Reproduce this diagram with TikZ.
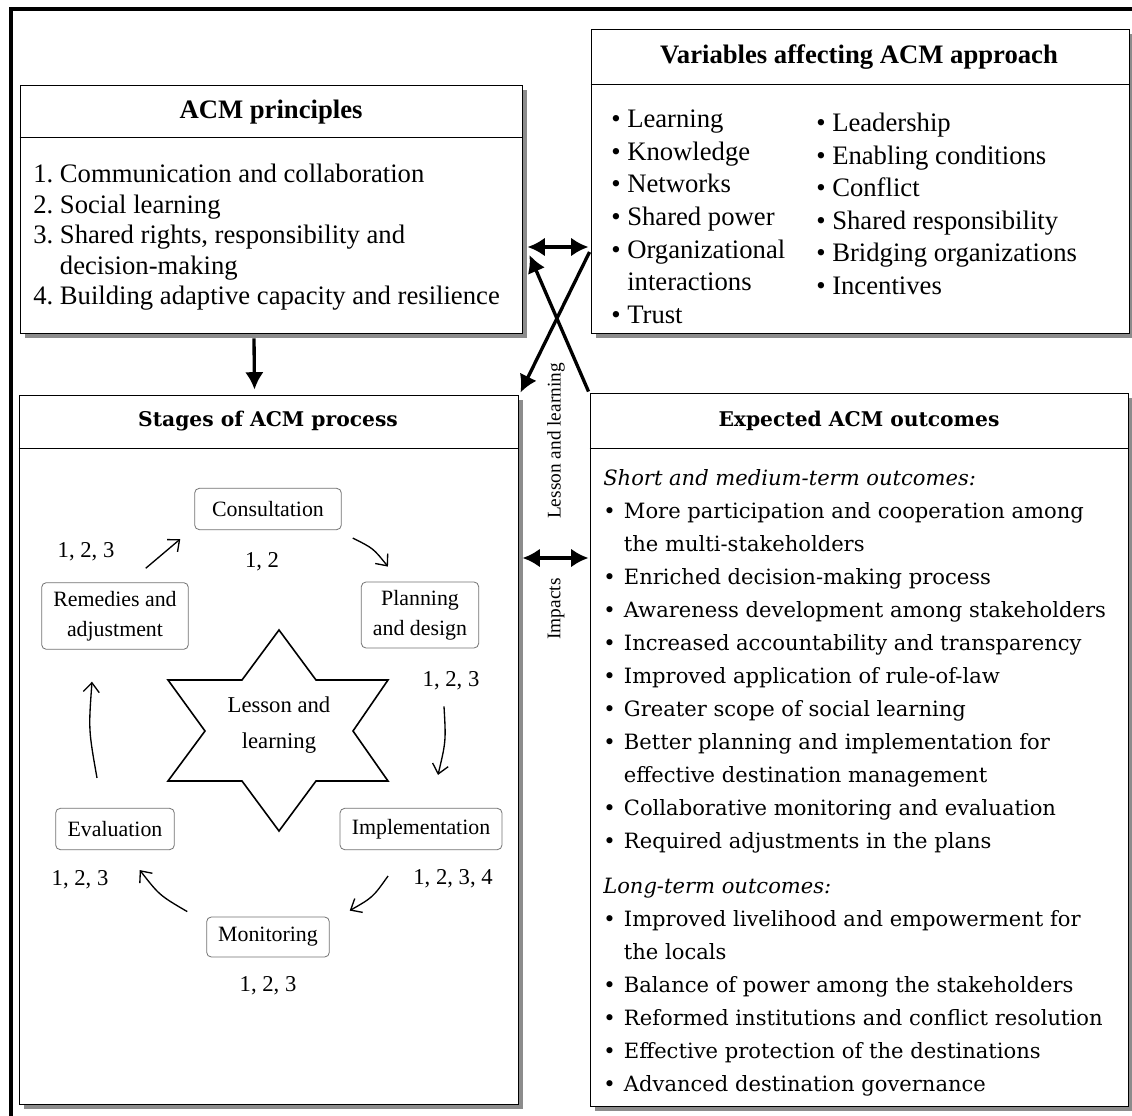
\documentclass[tikz,border=0pt]{standalone}
\usepackage{fontspec}
\setmainfont{Liberation Serif}
\newfontfamily\widefont{DejaVu Serif}
\usetikzlibrary{arrows.meta,calc,fit,backgrounds}

\newcommand{\oitem}{\makebox[15.5pt][l]{\textbullet}}
\newcommand{\ohang}{\hspace*{15.5pt}}

\tikzset{
  panel/.style={draw, line width=0.7pt, fill=white, inner sep=0pt},
  boxshadow/.style={fill=black!45},
  stageshadow/.style={fill=black!20},
  paneltitle/.style={inner sep=0.75pt, font=\fontsize{20}{24}\selectfont\bfseries},
  widetitle/.style={inner sep=0.75pt, font=\widefont\fontsize{15.2}{18}\selectfont\bfseries},
  listtext/.style={anchor=north west, align=left, inner sep=0pt},
  stage/.style={draw=black!55, line width=0.6pt, rounded corners=3.5pt, fill=white, align=center,
    inner sep=1pt, font=\fontsize{16.4}{22.5}\selectfont},
  nums/.style={inner sep=0.75pt, font=\fontsize{17}{20}\selectfont},
  sidelabel/.style={rotate=90, inner sep=0.75pt, font=\fontsize{14.5}{17}\selectfont},
  flow/.style={line width=2.5pt, -{Latex[length=13pt,width=14pt]}},
  dflow/.style={line width=2.5pt, {Latex[length=13pt,width=14pt]}-{Latex[length=13pt,width=14pt]}},
  cyc/.style={line width=1pt, -{Straight Barb[length=7pt,width=12pt]}}
}

\begin{document}
\begin{tikzpicture}[x=0.75pt,y=0.75pt,yscale=-1,xscale=1]
\useasboundingbox (0,0) rectangle (1132,1116);

%Shape: Frame
\draw [line width=3.5pt] (11,1116) -- (11,9) -- (1132,9);

%Shape: Rectangle [ACM principles]
\node [panel, fit={(20,85) (522,333)}] (prin) {};
\draw (prin.west |- 0,137) -- (prin.east |- 0,137);
%Shape: Rectangle [variables]
\node [panel, fit={(591,29) (1129,333)}] (vars) {};
\draw (vars.west |- 0,84) -- (vars.east |- 0,84);
%Shape: Rectangle [stages]
\node [panel, fit={(19,395) (518,1104)}] (stages) {};
\draw (stages.west |- 0,448) -- (stages.east |- 0,448);
%Shape: Rectangle [outcomes]
\node [panel, fit={(590,393) (1128,1106)}] (outc) {};
\draw (outc.west |- 0,448) -- (outc.east |- 0,448);

% Text Node
\draw (271,112) node (prin-t) [paneltitle] {ACM principles};
% Text Node
\draw (859,57) node (vars-t) [paneltitle] {Variables affecting ACM approach};
% Text Node
\draw (268,421) node (stages-t) [widetitle] {Stages of ACM process};
% Text Node
\draw (859,421) node (outc-t) [widetitle] {Expected ACM outcomes};

% Text Node
\draw (33,164) node (prin-list) [listtext, font=\fontsize{20}{22.9}\selectfont] {1.\ Communication and collaboration\\2.\ Social learning\\3.\ Shared rights, responsibility and\\\hphantom{3.\ }decision-making\\4.\ Building adaptive capacity and resilience};
% Text Node
\draw (611,110) node (vars-a) [listtext, font=\fontsize{20}{24.4}\selectfont] {\textbullet\ Learning\\\textbullet\ Knowledge\\\textbullet\ Networks\\\textbullet\ Shared power\\\textbullet\ Organizational\\\hphantom{\textbullet\ }interactions\\\textbullet\ Trust};
% Text Node
\draw (816,113) node (vars-b) [listtext, font=\fontsize{20}{24.4}\selectfont] {\textbullet\ Leadership\\\textbullet\ Enabling conditions\\\textbullet\ Conflict\\\textbullet\ Shared responsibility\\\textbullet\ Bridging organizations\\\textbullet\ Incentives};
% Text Node
\draw (603,469) node (outc-list) [listtext, font=\widefont\fontsize{15.8}{24.75}\selectfont] {\textit{Short and medium-term outcomes:}\\
\oitem More participation and cooperation among\\
\ohang the multi-stakeholders\\
\oitem Enriched decision-making process\\
\oitem Awareness development among stakeholders\\
\oitem Increased accountability and transparency\\
\oitem Improved application of rule-of-law\\
\oitem Greater scope of social learning\\
\oitem Better planning and implementation for\\
\ohang effective destination management\\
\oitem Collaborative monitoring and evaluation\\
\oitem Required adjustments in the plans\\[9pt]
\textit{Long-term outcomes:}\\
\oitem Improved livelihood and empowerment for\\
\ohang the locals\\
\oitem Balance of power among the stakeholders\\
\oitem Reformed institutions and conflict resolution\\
\oitem Effective protection of the destinations\\
\oitem Advanced destination governance};

%Shape: Star
\draw [line width=1.2pt, line join=miter] (279,630) -- (316,680) -- (388,680) -- (353,731) -- (388,781) -- (316,781) -- (279,831) -- (242,781) -- (168,781) -- (205,731) -- (168,680) -- (242,680) -- cycle;
% Text Node
\draw (279,725) node (lesson) [align=center, inner sep=0.75pt, font=\fontsize{17}{27}\selectfont] {Lesson and\\learning};

% Stage nodes
\node (consult) [stage, minimum width=110pt, minimum height=31pt] at (268,509) {Consultation};
\node (plan) [stage, minimum width=88pt, minimum height=49.5pt] at (420,615) {Planning\\and design};
\node (impl) [stage, minimum width=121.5pt, minimum height=31pt] at (421,829) {Implementation};
\node (monit) [stage, minimum width=92pt, minimum height=30pt] at (268,937) {Monitoring};
\node (evalu) [stage, minimum width=89pt, minimum height=31pt] at (115,829) {Evaluation};
\node (remed) [stage, minimum width=110pt, minimum height=50pt] at (115,616) {Remedies and\\adjustment};

% Text Node
\draw (262,562) node (n-consult) [nums] {1, 2};
\draw (451,681) node (n-plan) [nums] {1, 2, 3};
\draw (453,879) node (n-impl) [nums] {1, 2, 3, 4};
\draw (268,986) node (n-monit) [nums] {1, 2, 3};
\draw (80,880) node (n-evalu) [nums] {1, 2, 3};
\draw (86,552) node (n-remed) [nums] {1, 2, 3};

% Cycle arrows (free ends)
\coordinate (c1s) at ($(consult.south east)+(11,8)$);
\coordinate (c1e) at ($(plan.north west)+(27,-15)$);
\coordinate (c2s) at ($(plan.south)+(24,58)$);
\coordinate (c2e) at ($(impl.north)+(17,-33)$);
\coordinate (c3s) at ($(impl.south)+(-33,26)$);
\coordinate (c3e) at ($(monit.north east)+(20,-6)$);
\coordinate (c4s) at ($(monit.north west)+(-19,-5)$);
\coordinate (c4e) at ($(evalu.south east)+(-35,20)$);
\coordinate (c5s) at ($(evalu.north)+(-18,-30)$);
\coordinate (c5e) at ($(remed.south)+(-23,32)$);
\coordinate (c6s) at ($(remed.north east)+(-43,-14)$);
\coordinate (c6e) at ($(consult.south west)+(-14,9)$);
\draw [cyc] (c1s) .. controls ($(c1s)!0.5!(c1e)+(3,-4)$) .. (c1e);
\draw [cyc] (c2s) .. controls ($(c2s)!0.5!(c2e)+(5,0.5)$) .. (c2e);
\draw [cyc] (c3s) .. controls ($(c3s)!0.5!(c3e)+(4,4)$) .. (c3e);
\draw [cyc] (c4s) .. controls ($(c4s)!0.5!(c4e)+(-4,4.5)$) .. (c4e);
\draw [cyc] (c5s) .. controls ($(c5s)!0.5!(c5e)+(-6,0)$) .. (c5e);
\draw [cyc] (c6s) -- (c6e);

% Connectors between panels
\draw [flow] ($(prin.south)+(-17,5)$) -- ($(stages.north)+(-14,-5)$);
\draw [dflow] ($(prin.east)+(5,38)$) -- ($(vars.west)+(-2,66)$);
\draw [flow] ($(vars.west)+(-1,71)$) -- ($(stages.north east)+(2,-2)$);
\draw [flow] ($(outc.north west)+(-1,-1)$) -- ($(prin.east)+(7,46)$);
\draw [dflow] ($(stages.east)+(4,-191.5)$) -- ($(outc.west)+(-1,-191.5)$);

% Text Node
\draw (556,441) node (ll-label) [sidelabel] {Lesson and learning};
\draw (556,609) node (imp-label) [sidelabel] {Impacts};

% Shadows
\begin{scope}[on background layer]
\foreach \b in {prin,vars,stages,outc}
  \fill [boxshadow] ($(\b.south west)+(5,5)$) rectangle ($(\b.north east)+(5,5)$);
\foreach \s in {consult,plan,impl,monit,evalu,remed}
  \fill [stageshadow, rounded corners=3.5pt] ($(\s.south west)+(2,2)$) rectangle ($(\s.north east)+(2,2)$);
\end{scope}

\end{tikzpicture}
\end{document}
